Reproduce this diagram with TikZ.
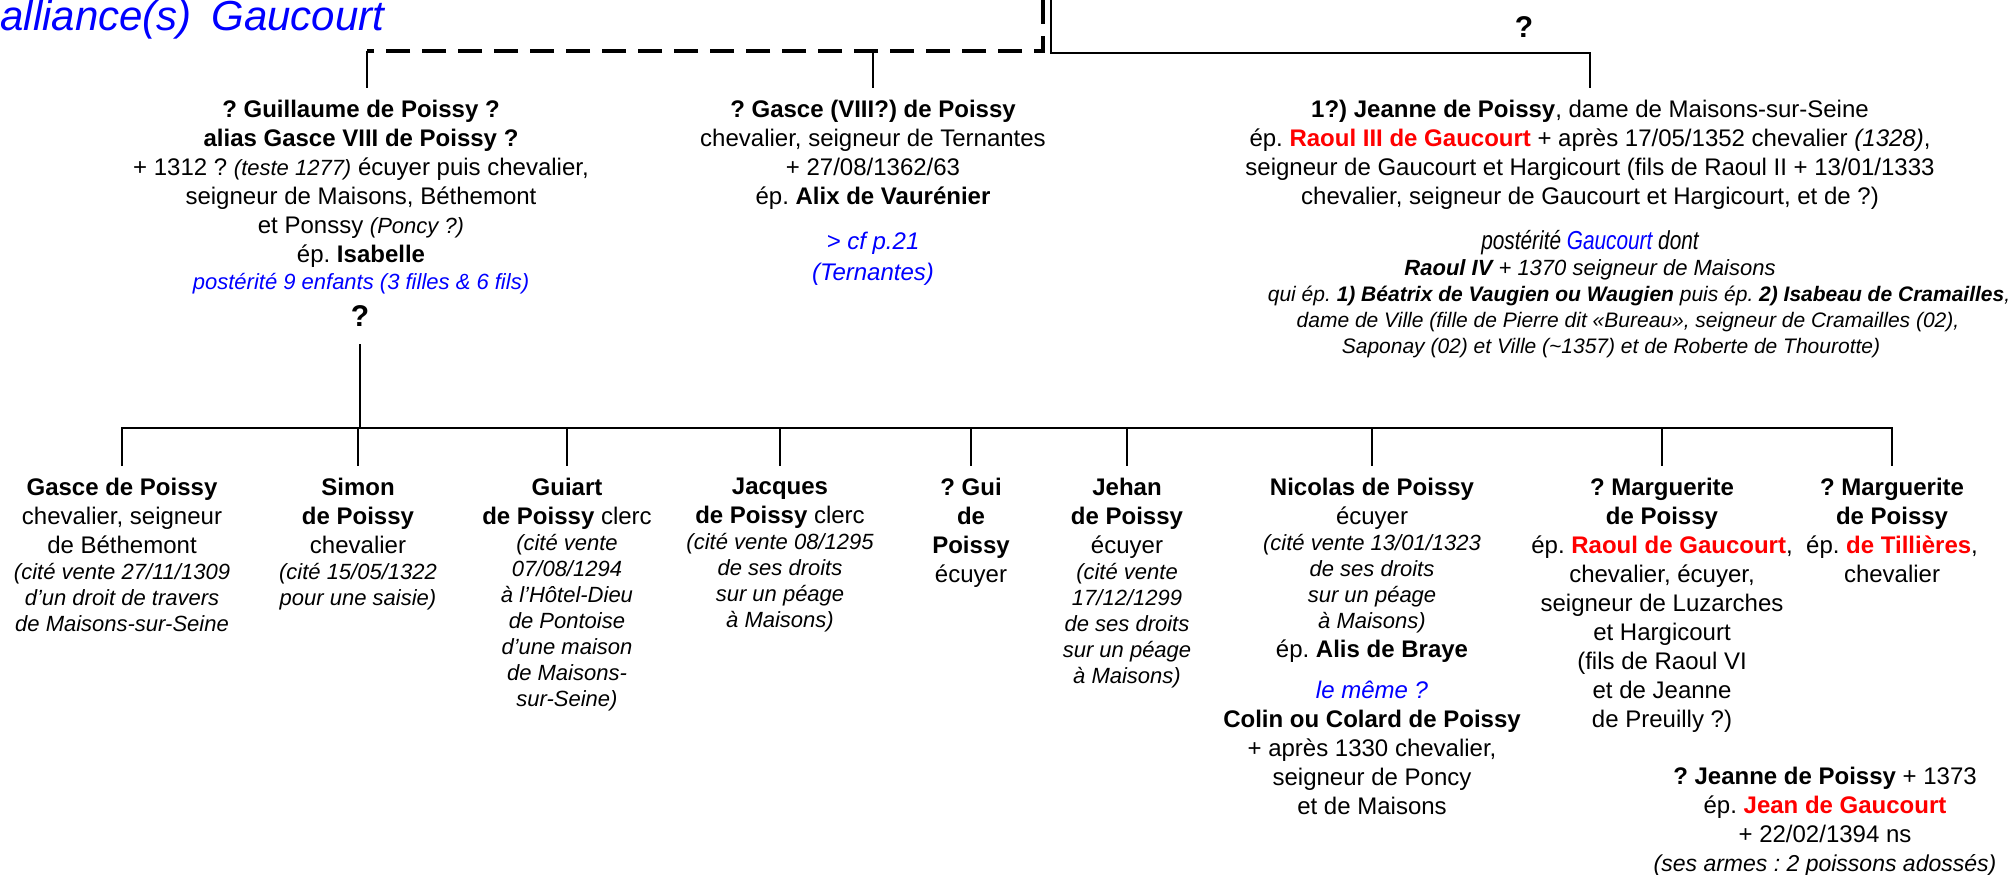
\documentclass[tikz,border=0pt]{standalone}
\usepackage{fontspec}
\setmainfont{Liberation Sans}
\newfontfamily\etroit[FakeStretch=0.8]{Liberation Sans}
\usepackage{tikz}
\definecolor{bleu}{RGB}{0,0,255}
\definecolor{rouge}{RGB}{255,0,0}
\frenchspacing
\newcommand{\rem}[1]{{\fontsize{11}{13}\selectfont\itshape #1}}
\newcommand{\petit}[1]{{\fontsize{10.5}{13}\selectfont\itshape #1}}
\newcommand{\epoux}[1]{\textcolor{rouge}{\textbf{#1}}}
\newcommand{\descente}[2]{\draw[trait] (#1) -- (#1 |- #2.north)}

\tikzset{
  personne/.style={align=center, inner sep=0pt, outer sep=6pt, anchor=north,
    font=\fontsize{12}{14.5}\selectfont},
  doute/.style={inner sep=0pt, outer sep=9pt, font=\fontsize{15}{18}\selectfont\bfseries},
  trait/.style={line width=1.3pt},
  pointille/.style={line width=1.6pt, dash pattern=on 12pt off 6pt}
}

\begin{document}
\begin{tikzpicture}[x=0.5pt, y=-0.5pt]
  \useasboundingbox (0,0) rectangle (2011,874);

  \node[anchor=base west, inner sep=0pt, text=bleu, font=\fontsize{21}{24}\selectfont\itshape] (titre) at (0,30) {alliance(s)\hspace{4pt} Gaucourt};
  \node[doute] (doute2) at (1524,27) {?};

  \coordinate (pointille) at (1043,0);
  \coordinate (coudeG) at (367,51);
  \coordinate (brancheG) at (873,51);
  \coordinate (trait) at (1051,0);
  \coordinate (coudeD) at (1590,53);
  \coordinate (barre) at (0,428);

  \node[personne] (guillaume) at (361,88) {\textbf{? Guillaume de Poissy ?}\\ \textbf{alias Gasce VIII de Poissy ?}\\ + 1312 ? \rem{(teste 1277)} écuyer puis chevalier,\\ seigneur de Maisons, Béthemont\\ et Ponssy \rem{(Poncy ?)}\\ ép. \textbf{Isabelle}\\[-1pt] \textcolor{bleu}{\rem{postérité 9 enfants (3 filles \& 6 fils)}}};
  \node[personne] (gasceVIII) at (873,88) {\textbf{? Gasce (VIII?) de Poissy}\\ chevalier, seigneur de Ternantes\\ + 27/08/1362/63\\ ép. \textbf{Alix de Vaurénier}\\[8pt] {\color{bleu}\itshape > cf p.21}\\[1pt] {\color{bleu}\itshape (Ternantes)}};
  \node[personne] (jeanne) at (1590,88) {\textbf{1?) Jeanne de Poissy}, dame de Maisons-sur-Seine\\ ép. \epoux{Raoul III de Gaucourt} + après 17/05/1352 chevalier \textit{(1328)},\\ seigneur de Gaucourt et Hargicourt (fils de Raoul II + 13/01/1333\\ chevalier, seigneur de Gaucourt et Hargicourt, et de ?)\\[8pt] {\etroit\fontsize{13}{14.5}\selectfont\itshape postérité \textcolor{bleu}{Gaucourt} dont}\\[-1.5pt] \rem{\textbf{Raoul IV} + 1370 seigneur de Maisons}\\[-1.5pt] \hspace*{49pt}\petit{qui ép. \textbf{1) Béatrix de Vaugien ou Waugien} puis ép. \textbf{2) Isabeau de Cramailles},}\\[-1.5pt] \hspace*{38pt}\petit{dame de Ville (fille de Pierre dit «Bureau», seigneur de Cramailles (02),}\\[-1.5pt] \hspace*{21pt}\petit{Saponay (02) et Ville (\textasciitilde1357) et de Roberte de Thourotte)}};
  \node[doute] (doute) at (360,316) {?};

  \node[personne] (gasce) at (122,466) {\textbf{Gasce de Poissy}\\ chevalier, seigneur\\ de Béthemont\\[-1.5pt] \rem{(cité vente 27/11/1309}\\[-1.5pt] \rem{d’un droit de travers}\\[-1.5pt] \rem{de Maisons-sur-Seine}};
  \node[personne] (simon) at (358,466) {\textbf{Simon}\\ \textbf{de Poissy}\\ chevalier\\[-1.5pt] \rem{(cité 15/05/1322}\\[-1.5pt] \rem{pour une saisie)}};
  \node[personne] (guiart) at (567,466) {\textbf{Guiart}\\ \textbf{de Poissy} clerc\\[-1.5pt] \rem{(cité vente}\\[-1.5pt] \rem{07/08/1294}\\[-1.5pt] \rem{à l’Hôtel-Dieu}\\[-1.5pt] \rem{de Pontoise}\\[-1.5pt] \rem{d’une maison}\\[-1.5pt] \rem{de Maisons-}\\[-1.5pt] \rem{sur-Seine)}};
  \node[personne] (jacques) at (780,466) {\textbf{Jacques}\\ \textbf{de Poissy} clerc\\[-1.5pt] \rem{(cité vente 08/1295}\\[-1.5pt] \rem{de ses droits}\\[-1.5pt] \rem{sur un péage}\\[-1.5pt] \rem{à Maisons)}};
  \node[personne] (gui) at (971,466) {\textbf{? Gui}\\ \textbf{de}\\ \textbf{Poissy}\\ écuyer};
  \node[personne] (jehan) at (1127,466) {\textbf{Jehan}\\ \textbf{de Poissy}\\ écuyer\\[-1.5pt] \rem{(cité vente}\\[-1.5pt] \rem{17/12/1299}\\[-1.5pt] \rem{de ses droits}\\[-1.5pt] \rem{sur un péage}\\[-1.5pt] \rem{à Maisons)}};
  \node[personne] (nicolas) at (1372,466) {\textbf{Nicolas de Poissy}\\ écuyer\\[-1.5pt] \rem{(cité vente 13/01/1323}\\[-1.5pt] \rem{de ses droits}\\[-1.5pt] \rem{sur un péage}\\[-1.5pt] \rem{à Maisons)}\\ ép. \textbf{Alis de Braye}\\[6pt] {\color{bleu}\itshape le même ?}\\ \textbf{Colin ou Colard de Poissy}\\ + après 1330 chevalier,\\ seigneur de Poncy\\ et de Maisons};
  \node[personne] (marguerite) at (1662,466) {\textbf{? Marguerite}\\ \textbf{de Poissy}\\ ép. \epoux{Raoul de Gaucourt},\\ chevalier, écuyer,\\ seigneur de Luzarches\\ et Hargicourt\\ (fils de Raoul VI\\ et de Jeanne\\ de Preuilly ?)};
  \node[personne] (tillieres) at (1892,466) {\textbf{? Marguerite}\\ \textbf{de Poissy}\\ ép. \epoux{de Tillières},\\ chevalier};
  \node[personne] (jeanne2) at (1825,755) {\textbf{? Jeanne de Poissy} + 1373\\ ép. \epoux{Jean de Gaucourt}\\ + 22/02/1394 ns\\ {\fontsize{11.5}{13}\selectfont\itshape (ses armes : 2 poissons adossés)}};

  \draw[pointille] (pointille) -- (pointille |- coudeG) -- (coudeG);
  \descente{coudeG}{guillaume};
  \descente{brancheG}{gasceVIII};
  \draw[trait] (trait) -- (trait |- coudeD) -- (coudeD) -- (coudeD |- jeanne.north);

  \draw[trait] (doute.south) -- (doute.south |- barre);
  \draw[trait] (gasce.north) -- (gasce.north |- barre) -- (tillieres.north |- barre) -- (tillieres.north);
  \foreach \e in {simon, guiart, jacques, gui, jehan, nicolas, marguerite}
    \draw[trait] (\e.north |- barre) -- (\e.north);
\end{tikzpicture}
\end{document}
